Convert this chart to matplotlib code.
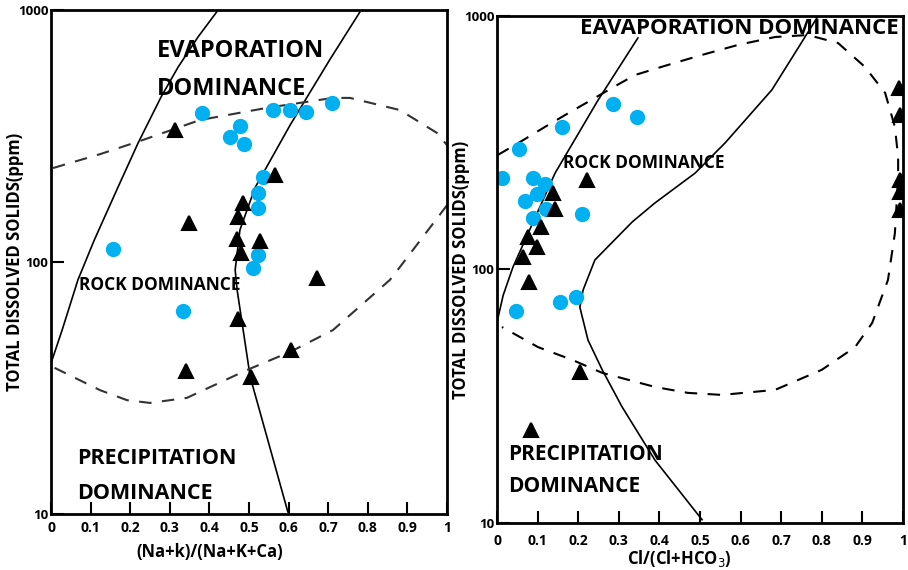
import matplotlib.pyplot as plt
import numpy as np

# ---- data ----
# left panel: (Na+K)/(Na+K+Ca)
cat_blue_x = [0.38, 0.452, 0.477, 0.487, 0.56, 0.604, 0.644, 0.709, 0.536, 0.523, 0.523, 0.157, 0.523, 0.51, 0.333]
cat_blue_y = [390, 313, 347, 294, 401, 401, 393, 427, 217, 188, 164, 113, 107, 95, 64]
cat_tri_x = [0.313, 0.566, 0.485, 0.472, 0.349, 0.47, 0.528, 0.48, 0.672, 0.472, 0.606, 0.341, 0.505]
cat_tri_y = [334, 221, 171, 151, 143, 123, 121, 109, 86.5, 59.4, 44.7, 36.9, 35]

# right panel: Cl/(Cl+HCO3)
an_blue_x = [0.286, 0.345, 0.16, 0.054, 0.012, 0.089, 0.118, 0.099, 0.069, 0.121, 0.209, 0.089, 0.047, 0.155, 0.195]
an_blue_y = [450, 400, 365, 299, 230, 230, 217, 198, 186, 173, 166, 160, 68.6, 74.5, 78]
an_tri_x = [0.138, 0.143, 0.222, 0.108, 0.076, 0.099, 0.064, 0.079, 0.204, 0.084, 0.99, 0.993, 0.993, 0.993, 0.993]
an_tri_y = [200, 173, 225, 147, 134, 123, 112, 89, 39.4, 23.3, 520, 407, 225, 202, 172]

# Gibbs boundary curves (left)
cl1_x = [0.0, 0.028, 0.068, 0.109, 0.169, 0.22, 0.278, 0.321, 0.371, 0.422]
cl1_y = [39.7, 53.7, 85, 122, 198, 297, 452, 594, 781, 1000]
cl2_x = [0.78, 0.705, 0.604, 0.515, 0.477, 0.465, 0.47, 0.503, 0.598]
cl2_y = [982, 639, 350, 197, 134, 93, 77.4, 35, 10.2]
cl_up_x = [0.005, 0.124, 0.232, 0.376, 0.545, 0.712, 0.755, 0.881, 0.975, 1.0]
cl_up_y = [236, 268, 305, 366, 409, 448, 448, 401, 325, 291]
cl_lo_x = [1.0, 0.881, 0.856, 0.712, 0.604, 0.495, 0.343, 0.25, 0.192, 0.124, 0.005]
cl_lo_y = [168, 95.5, 85, 53.7, 44, 37.3, 28.9, 27.6, 28.3, 31, 38.3]

# Gibbs boundary curves (right)
cr1_x = [0.0, 0.015, 0.039, 0.143, 0.249, 0.347]
cr1_y = [62, 79, 102, 240, 466, 819]
cr2_x = [0.791, 0.677, 0.562, 0.488, 0.389, 0.333, 0.241, 0.212, 0.204, 0.224, 0.259, 0.308, 0.389, 0.505]
cr2_y = [1000, 511, 316, 240, 183, 154, 109, 83, 71, 52.7, 40.2, 28.7, 17.7, 10.3]
cr_d_x = [0.002, 0.052, 0.118, 0.167, 0.241, 0.283, 0.34, 0.421, 0.505, 0.594, 0.685, 0.766, 0.84,
          0.906, 0.956, 0.98, 0.988, 0.988, 0.98, 0.963, 0.924, 0.882, 0.8, 0.685, 0.554, 0.47,
          0.389, 0.259, 0.185, 0.101, 0.012]
cr_d_y = [283, 315, 365, 406, 475, 520, 585, 641, 702, 769, 826, 841, 782,
          630, 497, 365, 278, 232, 139, 91, 61.5, 49.4, 40.2, 33.5, 32, 32.6,
          34.4, 39.1, 44, 49.4, 59.3]

xticks = [0, 0.1, 0.2, 0.3, 0.4, 0.5, 0.6, 0.7, 0.8, 0.9, 1]
xtick_labels = ['0', '0.1', '0.2', '0.3', '0.4', '0.5', '0.6', '0.7', '0.8', '0.9', '1']

blue = '#00B0F0'
fnt = 'Open Sans'

fig = plt.figure(figsize=(9.08, 5.70), dpi=100)
ax1 = fig.add_axes([0.0562, 0.0982, 0.4361, 0.8842])
ax2 = fig.add_axes([0.5474, 0.0825, 0.4471, 0.8895])


def style_axes(ax, xlabel, xlab_pos, ylab_x, xpad):
    ax.set_yscale('log')
    ax.set_xlim(0, 1)
    ax.set_ylim(10, 1000)
    ax.set_xticks(xticks)
    ax.set_xticklabels(xtick_labels, fontsize=10, fontfamily=fnt, fontweight='bold')
    ax.set_yticks([10, 100, 1000])
    ax.set_yticklabels(['10', '100', '1000'], fontsize=9.5, fontfamily=fnt, fontweight='bold')
    ax.minorticks_off()
    ax.tick_params(direction='in', length=9, width=1.5)
    ax.tick_params(axis='x', pad=xpad)
    ax.tick_params(axis='y', pad=2)
    for s in ax.spines.values():
        s.set_linewidth(2)
    ax.set_xlabel(xlabel, fontsize=12, fontfamily=fnt, fontweight='bold')
    ax.xaxis.set_label_coords(xlab_pos[0], xlab_pos[1])
    ax.set_ylabel('TOTAL DISSOLVED SOLIDS(ppm)', fontsize=12, fontfamily=fnt, fontweight='bold')
    ax.yaxis.set_label_coords(ylab_x, 0.5)


# left panel
ax1.plot(cl1_x, cl1_y, color='black', lw=1.2)
ax1.plot(cl2_x, cl2_y, color='black', lw=1.2)
ax1.plot(cl_up_x, cl_up_y, color='#333333', lw=1.5, dashes=(6, 5))
ax1.plot(cl_lo_x, cl_lo_y, color='#333333', lw=1.5, dashes=(6, 5))
ax1.plot(cat_blue_x, cat_blue_y, 'o', color=blue, ms=10, mec=blue)
ax1.plot(cat_tri_x, cat_tri_y, '^', color='black', ms=10, mew=1.5, mec='black')
style_axes(ax1, '(Na+k)/(Na+K+Ca)', (0.40, -0.058), -0.068, 5)
ax1.text(0.268, 0.918, 'EVAPORATION', transform=ax1.transAxes, fontsize=17, fontfamily=fnt,
         fontweight='bold', va='center', ha='left')
ax1.text(0.268, 0.843, 'DOMINANCE', transform=ax1.transAxes, fontsize=17, fontfamily=fnt,
         fontweight='bold', va='center', ha='left')
ax1.text(0.07, 0.455, 'ROCK DOMINANCE', transform=ax1.transAxes, fontsize=12.5, fontfamily=fnt,
         fontweight='bold', va='center', ha='left')
ax1.text(0.065, 0.11, 'PRECIPITATION', transform=ax1.transAxes, fontsize=15.5, fontfamily=fnt,
         fontweight='bold', va='center', ha='left')
ax1.text(0.065, 0.04, 'DOMINANCE', transform=ax1.transAxes, fontsize=15.5, fontfamily=fnt,
         fontweight='bold', va='center', ha='left')

# right panel
ax2.plot(cr1_x, cr1_y, color='black', lw=1.2)
ax2.plot(cr2_x, cr2_y, color='black', lw=1.2)
ax2.plot(cr_d_x, cr_d_y, color='black', lw=1.5, dashes=(6, 5))
ax2.plot(an_blue_x, an_blue_y, 'o', color=blue, ms=10, mec=blue)
ax2.plot(an_tri_x, an_tri_y, '^', color='black', ms=10, mew=1.5, mec='black')
style_axes(ax2, 'Cl/(Cl+HCO$_3$)', (0.45, -0.05), -0.066, 8)
ax2.text(0.99, 0.975, 'EAVAPORATION DOMINANCE', transform=ax2.transAxes, fontsize=16,
         fontfamily=fnt, fontweight='bold', va='center', ha='right')
ax2.text(0.163, 0.71, 'ROCK DOMINANCE', transform=ax2.transAxes, fontsize=12.5, fontfamily=fnt,
         fontweight='bold', va='center', ha='left')
ax2.text(0.027, 0.136, 'PRECIPITATION', transform=ax2.transAxes, fontsize=15, fontfamily=fnt,
         fontweight='bold', va='center', ha='left')
ax2.text(0.027, 0.072, 'DOMINANCE', transform=ax2.transAxes, fontsize=15, fontfamily=fnt,
         fontweight='bold', va='center', ha='left')

fig.savefig('out.png', dpi=100)
